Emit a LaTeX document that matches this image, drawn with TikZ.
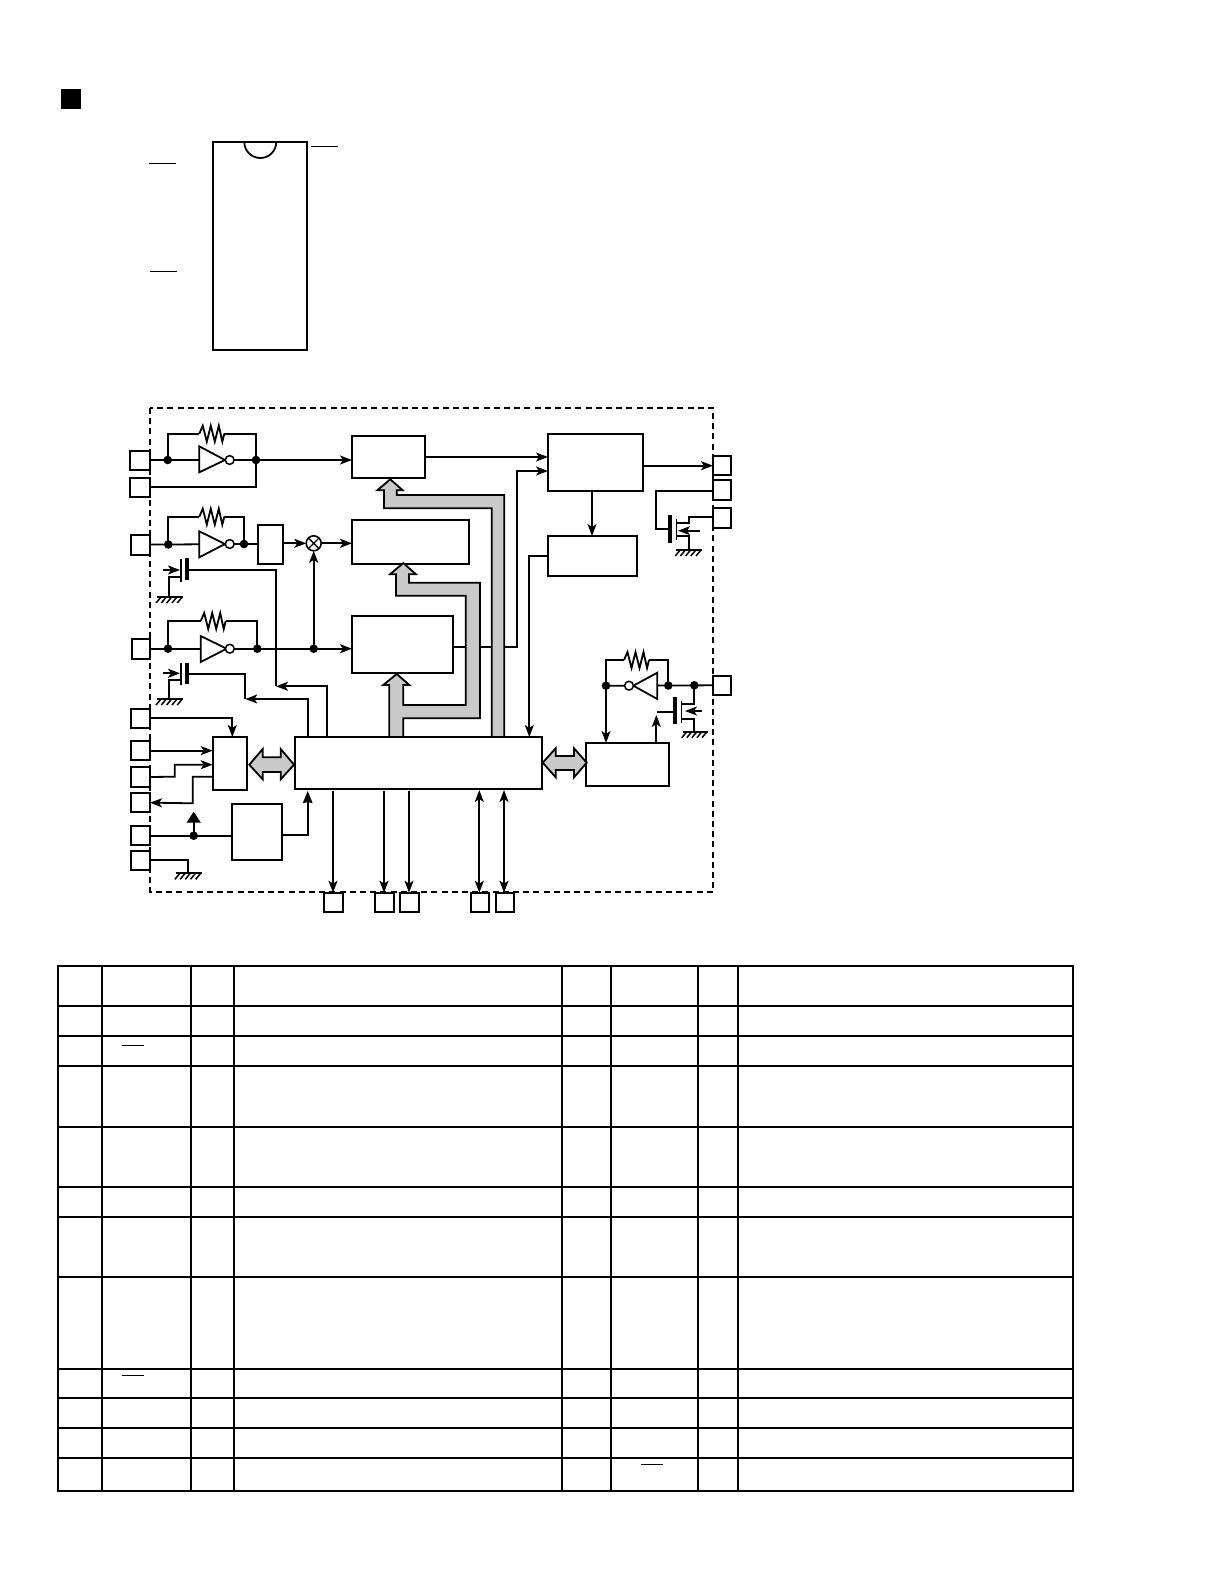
\documentclass[tikz,border=0pt]{standalone}
\usetikzlibrary{arrows.meta}
\definecolor{busgray}{HTML}{C9C9C9}
\tikzset{
  boxn/.style={draw=black,fill=white,line width=1.8pt,rectangle,inner sep=0pt,outer sep=0pt},
  wire/.style={draw=black,line width=1.8pt,line join=miter},
  arr/.style={wire,-{Stealth[length=12pt,width=9pt,inset=3pt]}},
  darr/.style={wire,{Stealth[length=12pt,width=9pt,inset=3pt]}-{Stealth[length=12pt,width=9pt,inset=3pt]}},
  barr/.style={wire,-{Stealth[length=12pt,width=9.5pt,inset=1pt]}},
  dotn/.style={circle,fill=black,inner sep=0pt,outer sep=0pt,minimum size=8.6pt},
  bub/.style={circle,draw=black,fill=white,line width=1.5pt,inner sep=0pt,outer sep=0pt,minimum size=8.8pt},
  bus/.style={draw=black,fill=busgray,line width=1.8pt,line join=miter},
  gatebar/.style={draw=black,line width=3.8pt},
  chan/.style={draw=black,line width=1.5pt},
  tbl/.style={draw=black,line width=1.9pt},
  oline/.style={draw=black,line width=1pt},
}
\newcommand{\bx}[5]{\pgfmathsetmacro{\bw}{#4-#2}\pgfmathsetmacro{\bh}{#5-#3}%
  \node[boxn,minimum width=\bw pt,minimum height=\bh pt] (#1) at ({(#2+#4)/2},{(#3+#5)/2}) {};}
\newcommand{\jn}[3]{\node[dotn] (#1) at (#2,#3) {};}
\newcommand{\res}[1]{\draw[wire] (#1) -- ++(3.5,-8) -- ++(4,16) -- ++(4,-16) -- ++(4,16) -- ++(4,-16) -- ++(3.5,16) -- ++(2,-8);}
\newcommand{\gnd}[3]{\draw[wire] (#1,#3) -- (#2,#3);
  \foreach \k in {1,...,5} {\draw[draw=black,line width=1.5pt] ({#1+\k*(#2-#1)/5-1},#3) -- ++(-5,6);}}
\begin{document}
\begin{tikzpicture}[x=1pt,y=-1pt]
\useasboundingbox (0,0) rectangle (1224,1584);
\fill[white] (0,0) rectangle (1224,1584);
% heading mark and package outline
\fill[black] (61,89) rectangle (81,109);
\bx{ic}{213}{142}{307.3}{350}
\draw[wire] (244.3,142) arc[start angle=180,end angle=0,radius=16];
\draw[oline] (149,163.7) -- (176,163.7);
\draw[oline] (150,271.3) -- (177,271.3);
\draw[oline] (311,146.3) -- (338,146.3);
% dashed frame
\draw[wire,dash pattern=on 6pt off 4.2pt] (150,408) rectangle (713.3,891.7);
% blocks
\bx{A}{352}{435.7}{425}{478}
\bx{B}{352}{519.7}{469.3}{563.7}
\bx{C}{352}{615.7}{453.3}{673}
\bx{D}{258}{525}{283.3}{564}
\bx{E}{548}{434}{643}{490.7}
\bx{F}{548}{536}{637.3}{575.7}
\bx{G}{295}{737}{542.3}{788.7}
\bx{H}{212.7}{737}{247}{790}
\bx{I}{231.7}{803.7}{282}{860.3}
\bx{J}{586}{743}{669.3}{786}
% pins
\bx{pa}{130}{450.7}{150}{470}
\bx{pb}{130}{478}{150}{496.7}
\bx{pc}{131}{535}{150}{554.7}
\bx{pd}{132}{639}{150}{658.7}
\bx{pe}{131}{708.7}{150}{728}
\bx{pf}{131}{741}{150}{760.3}
\bx{pg}{131}{767.3}{150}{786.7}
\bx{ph}{131}{793}{150}{812.3}
\bx{pi}{131}{826}{150}{845.3}
\bx{pj}{131}{850.7}{150}{870}
\bx{qa}{324}{892.7}{342.7}{912.3}
\bx{qb}{375}{892.7}{393.7}{912.3}
\bx{qc}{400}{892.7}{418.7}{912.3}
\bx{qd}{470.7}{892.7}{489.3}{912.3}
\bx{qe}{495.7}{892.7}{514.3}{912.3}
\bx{ra}{713}{456}{731.3}{475}
\bx{rb}{713}{480}{731.3}{499.7}
\bx{rc}{713}{508}{731.3}{528}
\bx{rd}{713}{675.7}{731.3}{695}
% oscillator 1
\jn{j1}{167.7}{460}\jn{j2}{256}{460}
\coordinate (r1) at (199.3,433.7);\coordinate (r1e) at (224.3,433.7);
\draw[wire] (pa.east |- j1) -- (j2.center);
\draw[arr] (j2.center) -- (j2 -| A.west);
\draw[wire] (j1.center) |- (r1);\draw[wire] (r1e) -| (j2.center);\res{r1}
\draw[wire] (pb.east) -- (pb.east -| j2) -- (j2.center);
\draw[wire,fill=white] (199.3,446.3) -- (225,460) -- (199.3,472.3) -- cycle;
\node[bub] (b1) at (229.7,460) {};
% oscillator 2
\jn{j3}{168.3}{544.5}\jn{j4}{244}{544}
\coordinate (r2) at (199.3,516.7);\coordinate (r2e) at (224.3,516.7);
\draw[wire] (pc.east |- j3) -- (j3.center) -- (j4.center) -- (j4 -| D.west);
\draw[wire] (j3.center) |- (r2);\draw[wire] (r2e) -| (j4.center);\res{r2}
\draw[wire,fill=white] (199.3,531.3) -- (225,544) -- (199.3,557.3) -- cycle;
\node[bub] (b2) at (229.7,544) {};
\node[circle,draw=black,fill=white,line width=1.6pt,inner sep=0pt,outer sep=0pt,minimum size=15pt] (xm) at (313.7,543.3) {};
\draw[draw=black,line width=1.3pt] (xm.north east) -- (xm.south west) (xm.north west) -- (xm.south east);
\draw[arr] (D.east |- xm) -- (xm.west);
\draw[arr] (xm.east) -- (xm -| B.west);
% oscillator 3
\jn{j5}{168}{648.7}\jn{j6}{257.3}{648.7}\jn{j7}{313.7}{648.7}
\coordinate (r3) at (200.7,621);\coordinate (r3e) at (225.7,621);
\draw[wire] (pd.east |- j5) -- (j7.center);
\draw[arr] (j7.center) -- (j7 -| C.west);
\draw[arr] (j7.center) -- (xm.south);
\draw[wire] (j5.center) |- (r3);\draw[wire] (r3e) -| (j6.center);\res{r3}
\draw[wire,fill=white] (200.7,636) -- (226.7,648.7) -- (200.7,662) -- cycle;
\node[bub] (b3) at (229.8,648.7) {};
% control transistors on the left
\coordinate (t1) at (187,570);\coordinate (t1a) at (276,686.3);\coordinate (g1) at (169,597);
\draw[arr] (162.7,570) -- (180,570);
\draw[wire] (181,559.3) -- (181,581.7);
\draw[gatebar] (187,558) -- (187,580);
\draw[wire] (t1) -| (t1a);
\draw[wire] (181,576.7) -| (g1);
\gnd{156.7}{183.3}{597}
\draw[arr] (G.north -| 327,0) |- (t1a);
\coordinate (t2) at (187,673.7);\coordinate (t2a) at (245.3,699);\coordinate (g2) at (169,699);
\draw[arr] (162.7,673.3) -- (180,673.3);
\draw[wire] (181,662.7) -- (181,685);
\draw[gatebar] (187,662.5) -- (187,684);
\draw[wire] (t2) -| (t2a);
\draw[wire] (181,680) -| (g2);
\gnd{156.7}{183.3}{699}
\draw[arr] (G.north -| 308.3,0) |- (t2a);
% left lower pins
\coordinate (e1) at (232.3,718);
\draw[arr] (pe.east |- e1) -| (H.north -| e1);
\draw[arr] (pf.east) -- (pf -| H.west);
\draw[arr] (pg.east) -- (174.7,776.7) -- (174.7,764.7) -- (212.7,764.7);
\draw[arr] (212.7,776.7) -- (192.7,776.7) -- (192.7,803.3) -- (ph.east);
\jn{j8}{193.7}{835.7}
\coordinate (up) at (193.7,811.7);
\draw[wire] (pi.east) -- (pi -| I.west);
\draw[wire,-{Triangle[length=11pt,width=14pt]}] (j8.center) -- (up);
\coordinate (ig) at (307.7,835);
\draw[barr] (I.east |- ig) -- (ig) -- (307.7,791);
\coordinate (g3) at (188,873.3);
\draw[wire] (pj.east) -| (g3);
\gnd{175.7}{201.7}{873.3}
% lower bus pins
\draw[arr] (333,791) -- (333,892.7);
\draw[arr] (384,791) -- (384,892.7);
\draw[arr] (409,791) -- (409,892.7);
\draw[darr] (479.3,790) -- (qd.north -| 479.3,0);
\draw[darr] (504,790) -- (qe.north -| 504,0);
% right side
\draw[arr] (A.east |- 0,457) -- (E.west |- 0,457);
\draw[arr] (C.east |- 0,647) -- (517,647) -- (517,471) -- (E.west |- 0,471);
\draw[arr] (E.east |- 0,465.7) -- (ra.west |- 0,465.7);
\draw[arr] (E.south -| 592,0) -- (F.north -| 592,0);
\draw[arr] (F.west |- 0,556) -- (529.3,556) -- (G.north -| 529.3,0);
% output transistor, top right
\coordinate (gt) at (670.3,529.3);
\draw[wire] (rb.west |- 0,491.3) -- (656,491.3) -- (656,529.3) -- (gt);
\draw[gatebar] (670.3,515) -- (670.3,542.7);
\draw[chan] (676.7,519.3) -- (676.7,540);
\draw[wire] (676.7,522.7) -- (688.7,522.7) -- (688.7,517) -- (rc.west |- 0,517);
\draw[wire] (676.7,536) -- (688.7,536) -- (688.7,550);
\draw[arr] (700,530.7) -- (678,530.7);
\gnd{676}{702}{550}
% right oscillator
\jn{j9}{606}{685.7}\jn{j10}{668.3}{685.5}\jn{j11}{694.3}{685.3}
\coordinate (r4) at (624,660);\coordinate (r4e) at (649.3,660);
\draw[wire] (rd.west |- j11) -- (j10.center) -- (j9.center);
\draw[wire] (j9.center) |- (r4);\draw[wire] (r4e) -| (j10.center);\res{r4}
\draw[arr] (j9.center) -- (j9 |- J.north);
\draw[wire,fill=white] (657.3,672.7) -- (633.3,685.7) -- (657.3,699) -- cycle;
\node[bub] (b4) at (629,685.7) {};
\draw[arr] (J.north -| 656.3,0) -- (656.3,715);
\draw[wire] (657.3,712.3) -- (675,712.3);
\draw[gatebar] (675,697.3) -- (675,724.3);
\draw[chan] (681.7,701) -- (681.7,722.7);
\draw[wire] (681.7,704) -- (694.3,704) -- (j11.center);
\draw[wire] (681.7,719.3) -- (694.3,719.3) -- (694.3,731.7);
\draw[arr] (701.7,711) -- (685,711);
\gnd{682.7}{708}{731.7}
% grey buses
\draw[bus] (491.7,737) -- (491.7,508.3) -- (384,508.3) -- (384,490.3) -- (377.3,490.3) -- (390.3,479.3) -- (402.7,490.3) -- (396.7,490.3) -- (396.7,495) -- (504.3,495) -- (504.3,737) -- cycle;
\draw[bus] (389.3,737) -- (389.3,685) -- (383.3,685) -- (396.7,674) -- (409.3,685) -- (403.3,685) -- (403.3,705) -- (465.7,705) -- (465.7,595.7) -- (396,595.7) -- (396,574.3) -- (390,574.3) -- (403.3,563) -- (416,574.3) -- (409,574.3) -- (409,582.7) -- (480,582.7) -- (480,718.3) -- (403.3,718.3) -- (403.3,737) -- cycle;
\draw[bus] (249.3,764.7) -- (262.7,749) -- (262.7,757.3) -- (280.7,757.3) -- (280.7,749) -- (294,764.7) -- (280.7,779.3) -- (280.7,772) -- (262.7,772) -- (262.7,779.3) -- cycle;
\draw[bus] (542.7,762.7) -- (555.7,748.3) -- (555.7,756) -- (574,756) -- (574,748.3) -- (586.7,762.7) -- (574,777.3) -- (574,770) -- (555.7,770) -- (555.7,777.3) -- cycle;
% table
\foreach \yy in {965.7,1005.7,1036,1066,1126.7,1186.7,1217,1277.3,1369,1398,1428.3,1458.3,1491}
  \draw[tbl] (57.7,\yy) -- (1072.7,\yy);
\foreach \xx in {57.7,102,191.3,233.7,562.3,611.3,697.7,738,1072.7}
  \draw[tbl] (\xx,965) -- (\xx,1491.9);
\draw[oline] (122,1045.3) -- (144,1045.3);
\draw[oline] (122,1375.3) -- (144,1375.3);
\draw[oline] (641,1464.3) -- (663,1464.3);
\end{tikzpicture}
\end{document}
